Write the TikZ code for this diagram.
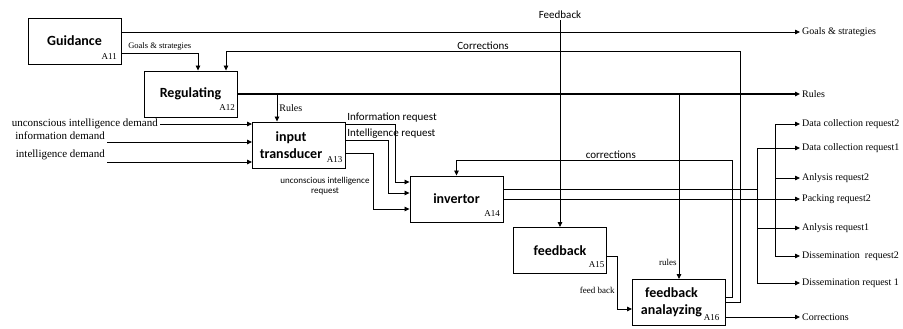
\documentclass[tikz,border=0pt]{standalone}
\usepackage{fontspec}
\setmainfont{Liberation Serif}
\setsansfont{Carlito}
\usetikzlibrary{arrows.meta,calc}

\begin{document}
\begin{tikzpicture}[x=1pt, y=1pt,
    activity/.style={draw, line width=0.9pt, minimum width=93pt, minimum height=46pt, align=center,
        font=\sffamily\bfseries\fontsize{14}{17}\selectfont},
    aid/.style={anchor=south east, inner sep=1.5pt, font=\fontsize{9}{10}\selectfont},
    lbl/.style={inner sep=2pt, font=\fontsize{10}{12}\selectfont},
    slbl/.style={inner sep=1pt, font=\sffamily\fontsize{11}{13}\selectfont},
    wire/.style={line width=0.8pt},
    flow/.style={line width=0.8pt, -{Triangle[length=5pt,width=4.5pt]}}]

\useasboundingbox (0,0) rectangle (903,-329);

% Activity boxes
\node[activity] (guid) at (74.5,-41) {Guidance};
\node[aid] at ($(guid.south east)+(-3,3)$) {A11};
\node[activity] (reg) at (190.5,-94) {Regulating};
\node[aid] at ($(reg.south east)+(-1,5)$) {A12};
\node[activity] (intr) at (299,-145) {\hspace*{-16pt}input\\\hspace*{-16pt}transducer};
\node[aid] at ($(intr.south east)+(-2,4)$) {A13};
\node[activity] (inv) at (456.5,-199) {invertor};
\node[aid] at ($(inv.south east)+(-2,4)$) {A14};
\node[activity] (fb) at (560,-250.5) {feedback};
\node[aid] at ($(fb.south east)+(-1,5)$) {A15};
\node[activity] (fba) at (679,-302.5) {\hspace*{-15pt}feedback\\\hspace*{-15pt}analayzing};
\node[aid] at ($(fba.south east)+(-5,4)$) {A16};

% Outputs on the right
\node[lbl, anchor=west] (goals) at (800,-32) {Goals \& strategies};
\node[lbl, anchor=west] (rules) at (800,-94) {Rules};
\node[lbl, anchor=west] (dc2) at (800,-124) {Data collection request2};
\node[lbl, anchor=west] (dc1) at (800,-148) {Data collection request1};
\node[lbl, anchor=west] (an2) at (800,-178) {Anlysis request2};
\node[lbl, anchor=west] (pk2) at (800,-199) {Packing request2};
\node[lbl, anchor=west] (an1) at (800,-228) {Anlysis request1};
\node[lbl, anchor=west] (ds2) at (800,-256) {Dissemination\ \ request2};
\node[lbl, anchor=west] (ds1) at (800,-283) {Dissemination request 1};
\node[lbl, anchor=west] (corr) at (800,-317) {Corrections};

% Guidance
\draw[flow] (guid.east |- goals.west) -- (goals.west);
\coordinate (gs) at (198,-53);
\draw[flow] (guid.east |- gs) -| (reg.north -| gs)
    node[pos=0.25, above, lbl, font=\fontsize{8.5}{10}\selectfont] {Goals \& strategies};

% Regulating
\draw[flow, line width=1.8pt] (reg.east) -- (rules.west);
\coordinate (rin) at ($(intr.north)+(-22,0)$);
\draw[flow] (reg.east -| rin) -- (rin) node[midway, right, lbl] {Rules};
\draw[flow] (reg.east -| fba.north) -- (fba.north)
    node[pos=0.91, left, lbl, font=\fontsize{9}{10}\selectfont] {rules};

% Inputs
\coordinate (in1) at (160,-124);
\coordinate (in2) at (107,-142);
\coordinate (in3) at (107,-162);
\node[lbl, anchor=east, font=\fontsize{11}{13}\selectfont] (ucd) at (in1) {unconscious intelligence demand};
\node[lbl, anchor=south east, font=\fontsize{11}{13}\selectfont] (ifd) at (in2) {information demand};
\node[lbl, anchor=south east, font=\fontsize{11}{13}\selectfont] (itd) at (in3) {intelligence demand};
\draw[flow] (ucd.east) -- (ucd.east -| intr.west);
\draw[flow] (ifd.south east) -- (ifd.south east -| intr.west);
\draw[flow] (itd.south east) -- (itd.south east -| intr.west);

% Input transducer
\coordinate (j1) at (395,-182);
\coordinate (j2) at (388,-193);
\coordinate (j3) at (373,-209);
\draw[flow] ($(intr.east)+(0,21)$) node[slbl, anchor=south west] {Information request}
    -| (j1) -- (j1 -| inv.west);
\draw[flow] ($(intr.east)+(0,5)$) node[slbl, anchor=south west] {Intelligence request}
    -| (j2) -- (j2 -| inv.west);
\draw[flow] ($(intr.east)+(0,-8)$) -| (j3) -- (j3 -| inv.west);
\node[slbl, align=center, font=\sffamily\fontsize{9}{10}\selectfont] (uir) at (325,-186)
    {unconscious intelligence\\request};

% Invertor
\coordinate (bus1) at (757,-189);
\coordinate (bus2) at (775,-199);
\draw[wire] ($(inv.east)+(0,10)$) -- (bus1);
\draw[flow] (inv.east) -- (pk2.west);
\draw[wire] (bus1 |- dc1.west) -- (bus1 |- ds1.west);
\draw[wire] (bus2 |- dc2.west) -- (bus2 |- ds2.west);
\foreach \t in {dc1,an1,ds1}
    \draw[flow] (bus1 |- \t.west) -- (\t.west);
\foreach \t in {dc2,an2,ds2}
    \draw[flow] (bus2 |- \t.west) -- (\t.west);

% Feedback
\node[slbl] (fbk) at (560,-15) {Feedback};
\draw[flow] (fbk.south) -- (fb.north);
\coordinate (j4) at (617,-309);
\draw[flow] ($(fb.east)+(0,-5.5)$) -| (j4)
    node[pos=0.82, left, lbl, font=\fontsize{9}{10}\selectfont] {feed back}
    -- (j4 -| fba.west);

% Feedback analyzing
\coordinate (c1) at (732,-160);
\coordinate (c2) at (740,-51);
\draw[flow] ($(fba.east)+(0,5.5)$) -| (c1) -| (inv.north)
    node[pos=0.22, above, slbl] {corrections};
\draw[flow] (fba.east) -| (c2) -| ($(reg.north)+(35.5,0)$)
    node[pos=0.25, above, slbl] {Corrections};
\draw[flow] ($(fba.east)+(0,-14.5)$) -- (corr.west);
\end{tikzpicture}
\end{document}
